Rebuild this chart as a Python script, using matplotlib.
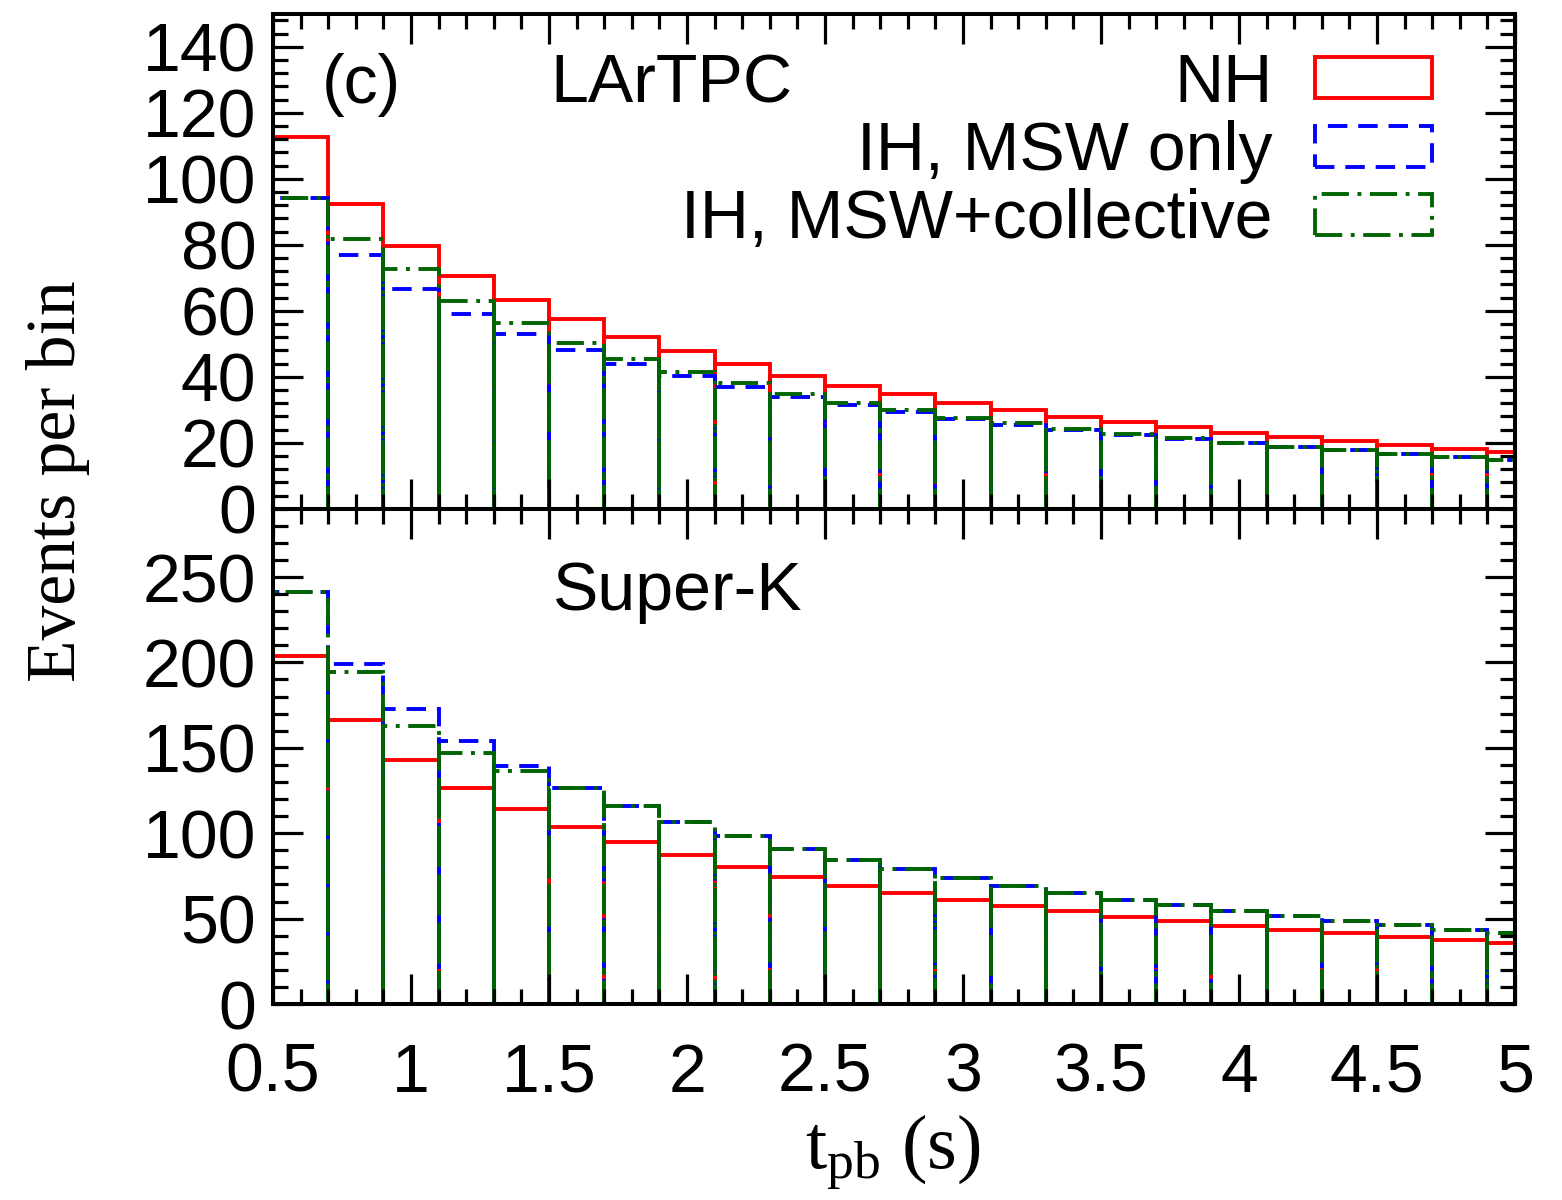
import matplotlib
matplotlib.use("Agg")
import matplotlib.pyplot as plt
from matplotlib.ticker import MultipleLocator, FuncFormatter

plt.rcParams['font.family'] = ['Liberation Sans', 'DejaVu Sans']
plt.rcParams['mathtext.fontset'] = 'custom'
plt.rcParams['mathtext.rm'] = 'Liberation Serif'
plt.rcParams['mathtext.it'] = 'Liberation Serif:italic'

# ---- data ----
bin_left = [0.5, 0.7, 0.9, 1.1, 1.3, 1.5, 1.7, 1.9, 2.1, 2.3, 2.5, 2.7,
            2.9, 3.1, 3.3, 3.5, 3.7, 3.9, 4.1, 4.3, 4.5, 4.7, 4.9]
bin_width = 0.2

labels = ["NH", "IH, MSW only", "IH, MSW+collective"]

lar_nh = [112.7, 92.2, 79.7, 70.5, 63.2, 57.4, 52.1, 47.8, 43.8, 40.1, 37.2, 34.7,
          32.1, 29.9, 27.9, 26.2, 24.7, 23.0, 21.7, 20.5, 19.3, 18.2, 17.2]
lar_msw = [94.2, 77.0, 66.6, 58.9, 53.0, 48.1, 43.8, 40.1, 36.8, 33.8, 31.3, 29.3,
           27.3, 25.5, 23.8, 22.4, 21.1, 19.8, 18.6, 17.7, 16.7, 15.8, 14.8]
lar_col = [94.2, 81.6, 72.5, 62.8, 56.4, 50.2, 45.3, 41.4, 38.0, 34.7, 32.1, 29.9,
           27.6, 25.9, 24.2, 22.6, 21.3, 20.0, 18.8, 17.7, 16.7, 15.8, 14.8]

sk_nh = [204.0, 166.3, 142.8, 126.3, 114.3, 103.8, 95.0, 87.0, 80.5, 74.4, 69.1, 65.2,
         60.9, 57.4, 54.2, 51.1, 48.4, 45.8, 43.5, 41.5, 39.4, 37.4, 35.7]
sk_msw = [241.3, 199.2, 172.7, 153.7, 139.2, 126.5, 115.7, 106.5, 98.5, 90.7, 84.2, 79.1,
          73.8, 68.9, 64.8, 61.1, 57.8, 54.2, 51.5, 48.6, 46.2, 43.5, 41.3]
sk_col = [241.3, 194.3, 162.7, 147.1, 136.5, 126.5, 115.7, 106.5, 98.5, 90.7, 84.2, 79.1,
          73.8, 68.9, 64.8, 61.1, 57.8, 54.2, 51.5, 48.6, 46.2, 43.5, 41.3]

colors = ['#ff0000', '#0000ff', '#006400']
styles = ['-', (0, (5, 2.8)), (0, (7, 2.2, 1, 2.2))]
LW = 2.8
FS = 49

fig = plt.figure(figsize=(15.62, 12), dpi=100)
ax1 = fig.add_axes([0.17478, 0.57608, 0.79513, 0.4125])
ax2 = fig.add_axes([0.17478, 0.16333, 0.79513, 0.41275])


def draw(ax, series):
    conts = []
    for vals, c, ls in zip(series, colors, styles):
        bc = ax.bar(bin_left, vals, width=bin_width, align='edge', fill=False,
                    edgecolor=c, linestyle=ls, linewidth=LW)
        conts.append(bc)
    return conts


conts = draw(ax1, [lar_nh, lar_msw, lar_col])
draw(ax2, [sk_nh, sk_msw, sk_col])

fmt = FuncFormatter(lambda v, p: '%g' % v)
for ax in (ax1, ax2):
    ax.set_xlim(0.5, 5.0)
    ax.xaxis.set_major_locator(MultipleLocator(0.5))
    ax.xaxis.set_minor_locator(MultipleLocator(0.1))
    ax.xaxis.set_major_formatter(fmt)
    ax.tick_params(which='both', direction='in', top=True, right=True, width=2.3)
    ax.tick_params(which='major', length=21.6, labelsize=FS)
    ax.tick_params(which='minor', length=10.8)
    ax.tick_params(axis='y', pad=12)
    ax.tick_params(axis='x', pad=27)
    for s in ax.spines.values():
        s.set_linewidth(2.9)

ax1.set_ylim(0, 150)
ax1.yaxis.set_major_locator(MultipleLocator(20))
ax1.yaxis.set_minor_locator(MultipleLocator(4))
ax1.tick_params(axis='x', labelbottom=False)

ax2.set_ylim(0, 290)
ax2.yaxis.set_major_locator(MultipleLocator(50))
ax2.yaxis.set_minor_locator(MultipleLocator(10))

ax1.text(0.039, 0.82, '(c)', transform=ax1.transAxes, fontsize=FS, va='baseline')
ax1.text(0.223, 0.82, 'LArTPC', transform=ax1.transAxes, fontsize=FS, va='baseline')
ax2.text(0.225, 0.795, 'Super-K', transform=ax2.transAxes, fontsize=FS, va='baseline')

leg = ax1.legend([c for c in conts], labels, loc='upper right',
                 bbox_to_anchor=(1432 / 1562, 1 - 52 / 1200),
                 bbox_transform=fig.transFigure, frameon=False, markerfirst=False,
                 fontsize=FS, handlelength=1.72, handleheight=0.55,
                 handletextpad=0.62, labelspacing=0.06, borderpad=0, borderaxespad=0)

fig.text(58 / 1562, 1 - 481 / 1200, 'Events per bin', rotation=90, ha='center',
         va='center', family='Liberation Serif', fontsize=50)
fig.text(893 / 1562, 1 - 1168 / 1200, r'$\mathrm{t}_{\mathrm{pb}}$ (s)', ha='center',
         va='baseline', family='Liberation Serif', fontsize=55)

fig.savefig('out.png', dpi=100)
